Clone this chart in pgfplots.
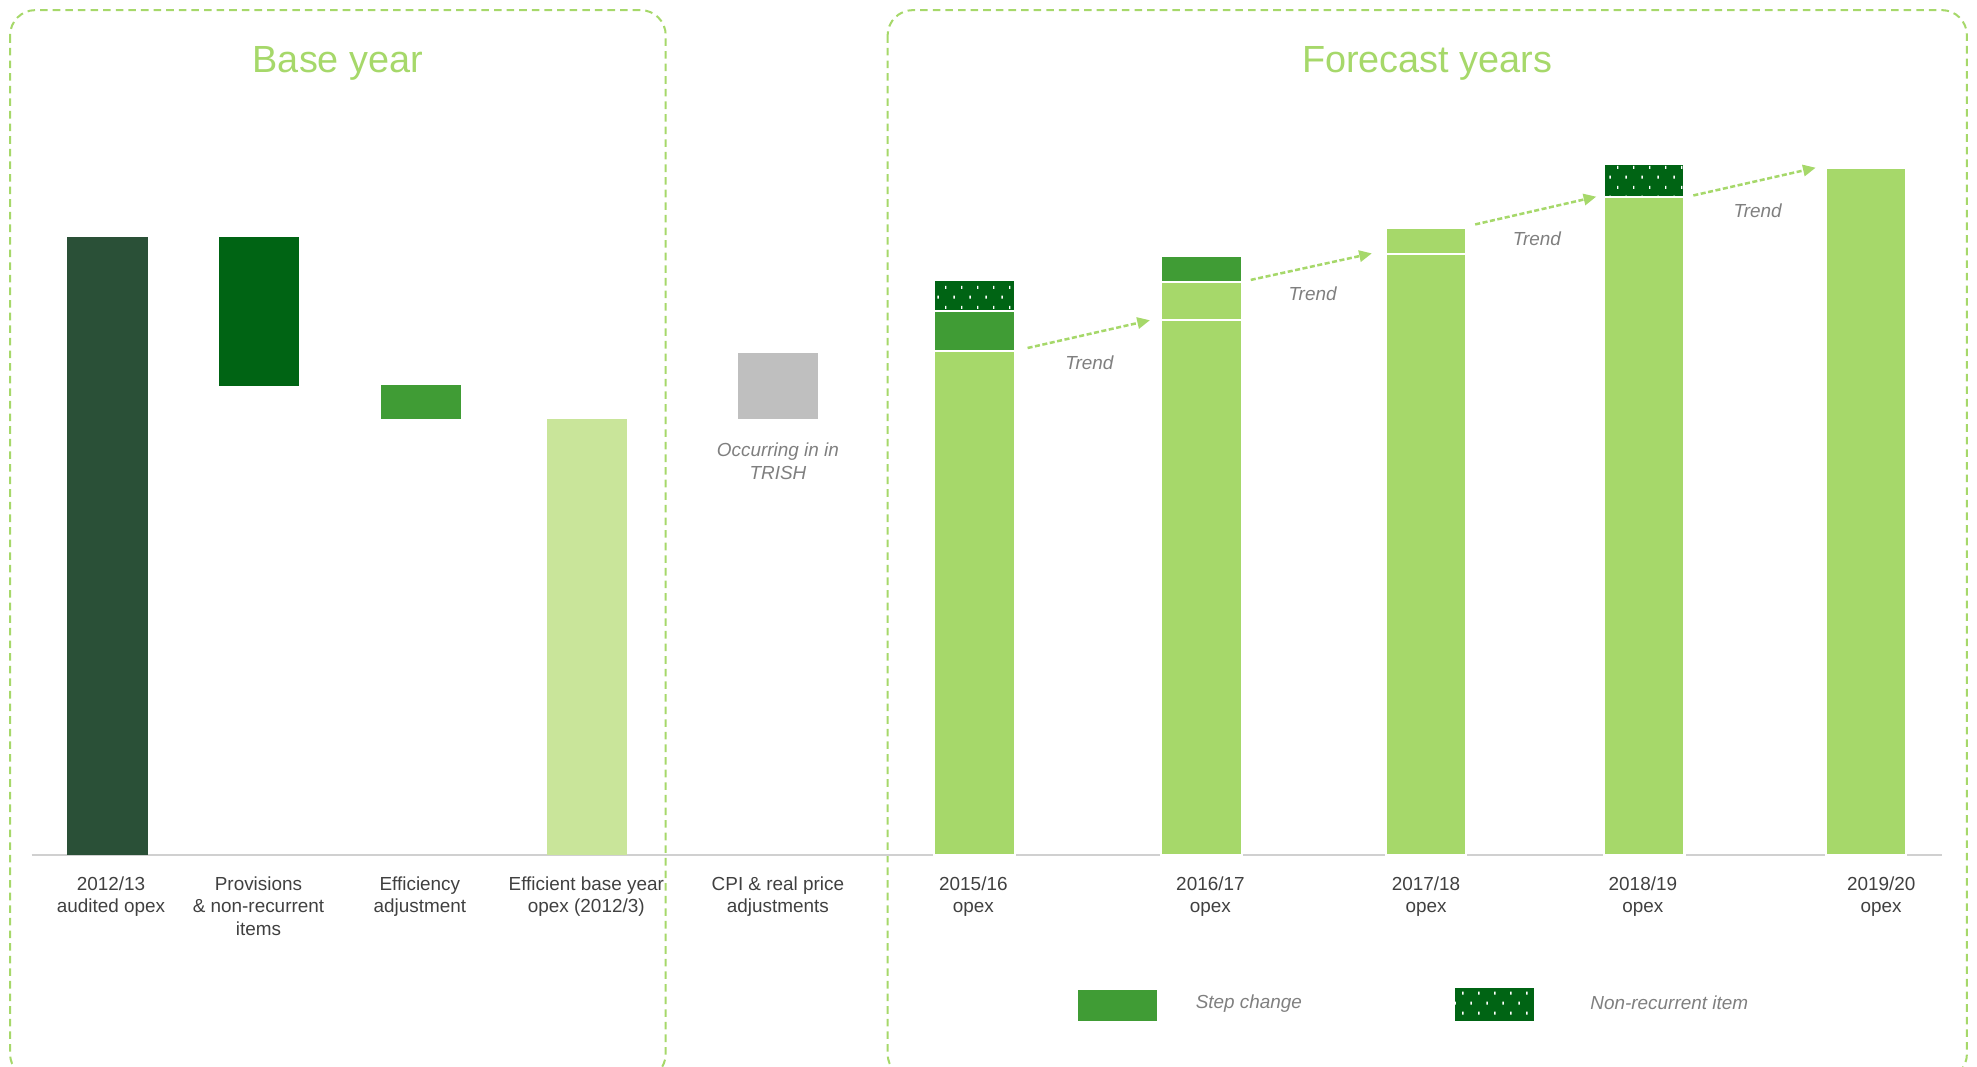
\documentclass[border=0pt]{standalone}
\usepackage{pgfplots}
\pgfplotsset{compat=1.18}
\usepackage{fontspec}
\setmainfont{Liberation Sans}
\usetikzlibrary{arrows.meta,patterns.meta}
\definecolor{lg}{HTML}{A6D86A}
\definecolor{dk}{HTML}{2A5037}
\definecolor{nr}{HTML}{006414}
\definecolor{st}{HTML}{409C35}
\definecolor{eb}{HTML}{C9E59A}
\definecolor{cg}{HTML}{BFBFBF}
\definecolor{tx}{HTML}{404040}
\definecolor{tg}{HTML}{7F7F7F}
\definecolor{bl}{HTML}{D0D0D0}

\tikzdeclarepattern{
  name=nrdots,
  type=uncolored,
  bounding box={(0pt,0pt) and (6.4pt,8pt)},
  tile size={(6.4pt,8pt)},
  code={
    \fill (1pt,1pt) rectangle (1.6pt,2.2pt);
    \fill (4.2pt,5pt) rectangle (4.8pt,6.2pt);
  }
}

\begin{document}
\begin{tikzpicture}
\begin{axis}[
  scale only axis, width=784pt, height=339pt,
  xmin=0, xmax=1568, ymin=0, ymax=138.367,
  clip=false,
  axis line style={draw=none},
  major tick length=0pt,
  ytick=\empty,
  xtick={88,205,333,465,617,772,960,1131,1303,1492},
  xticklabels={{2012/13\\audited opex},{Provisions\\\& non-recurrent\\items},{Efficiency\\adjustment},{Efficient base year\\opex (2012/3)},{CPI \& real price\\adjustments},{2015/16\\opex},{2016/17\\opex},{2017/18\\opex},{2018/19\\opex},{2019/20\\opex}},
  xticklabel style={align=center, font=\fontsize{7.5}{9}\selectfont, text=tx, yshift=-5pt},
  ybar stacked, bar width=64,
]
% invisible offsets for floating bars
\addplot[draw=none, fill=none] coordinates {(85,0) (205.5,75.9) (334,70.6) (465.5,0) (617,70.6) (773,0) (953,0) (1131,0) (1304,0) (1480,0)};
% 2012/13 audited opex
\addplot[draw=none, fill=dk] coordinates {(85,100) (205.5,0) (334,0) (465.5,0) (617,0) (773,0) (953,0) (1131,0) (1304,0) (1480,0)};
% provisions & non-recurrent items
\addplot[draw=none, fill=nr] coordinates {(85,0) (205.5,24.1) (334,0) (465.5,0) (617,0) (773,0) (953,0) (1131,0) (1304,0) (1480,0)};
% efficiency adjustment
\addplot[draw=none, fill=st] coordinates {(85,0) (205.5,0) (334,5.5) (465.5,0) (617,0) (773,0) (953,0) (1131,0) (1304,0) (1480,0)};
% efficient base year opex
\addplot[draw=none, fill=eb] coordinates {(85,0) (205.5,0) (334,0) (465.5,70.6) (617,0) (773,0) (953,0) (1131,0) (1304,0) (1480,0)};
% CPI & real price adjustments
\addplot[draw=none, fill=cg] coordinates {(85,0) (205.5,0) (334,0) (465.5,0) (617,10.6) (773,0) (953,0) (1131,0) (1304,0) (1480,0)};
% forecast opex (trended)
\addplot[draw=white, line width=0.8pt, fill=lg] coordinates {(85,0) (205.5,0) (334,0) (465.5,0) (617,0) (773,81.6) (953,86.5) (1131,97.3) (1304,106.5) (1480,111.2)};
% forecast opex, carried step change
\addplot[draw=white, line width=0.8pt, fill=lg] coordinates {(85,0) (205.5,0) (334,0) (465.5,0) (617,0) (773,0) (953,6.3) (1131,4.1) (1304,0) (1480,0)};
% step change
\addplot[draw=white, line width=0.8pt, fill=st] coordinates {(85,0) (205.5,0) (334,0) (465.5,0) (617,0) (773,6.4) (953,4.2) (1131,0) (1304,0) (1480,0)};
% non-recurrent item
\addplot[draw=white, line width=0.8pt, fill=nr, postaction={pattern=nrdots, pattern color=white}] coordinates {(85,0) (205.5,0) (334,0) (465.5,0) (617,0) (773,5.0) (953,0) (1131,0) (1304,5.3) (1480,0)};

% baseline
\draw[bl, line width=1pt] (axis cs:25,0) -- (axis cs:1540,0);

% boxes
\draw[lg, line width=0.8pt, dash pattern=on 3pt off 2pt, rounded corners=10pt] (axis cs:8,136.73) rectangle (axis cs:528,-36.3);
\draw[lg, line width=0.8pt, dash pattern=on 3pt off 2pt, rounded corners=10pt] (axis cs:704,136.73) rectangle (axis cs:1560,-36.3);

% titles
\node[font=\fontsize{15}{18}\selectfont, text=lg] at (axis cs:268,128.17) {Base year};
\node[font=\fontsize{15}{18}\selectfont, text=lg] at (axis cs:1132,128.17) {Forecast years};

% trend arrows
\draw[lg, line width=1pt, dash pattern=on 2pt off 1pt, -{Triangle[length=5pt,width=4.5pt]}] (axis cs:815,82.04) -- (axis cs:912,86.53);
\draw[lg, line width=1pt, dash pattern=on 2pt off 1pt, -{Triangle[length=5pt,width=4.5pt]}] (axis cs:992,93.06) -- (axis cs:1088,97.35);
\draw[lg, line width=1pt, dash pattern=on 2pt off 1pt, -{Triangle[length=5pt,width=4.5pt]}] (axis cs:1170,102.04) -- (axis cs:1266,106.53);
\draw[lg, line width=1pt, dash pattern=on 2pt off 1pt, -{Triangle[length=5pt,width=4.5pt]}] (axis cs:1343,106.73) -- (axis cs:1440,111.22);

\node[font=\itshape\fontsize{7.5}{9}\selectfont, text=tg] at (axis cs:864,79.59) {Trend};
\node[font=\itshape\fontsize{7.5}{9}\selectfont, text=tg] at (axis cs:1041,90.82) {Trend};
\node[font=\itshape\fontsize{7.5}{9}\selectfont, text=tg] at (axis cs:1219,99.8) {Trend};
\node[font=\itshape\fontsize{7.5}{9}\selectfont, text=tg] at (axis cs:1394,104.29) {Trend};

\node[font=\itshape\fontsize{7.5}{9}\selectfont, text=tg, align=center] at (axis cs:617,63.67) {Occurring in in\\TRISH};

% legend
\path[fill=st] (axis cs:855,-21.84) rectangle (axis cs:918,-26.94);
\path[fill=nr, postaction={pattern=nrdots, pattern color=white}] (axis cs:1154,-21.63) rectangle (axis cs:1217,-26.94);
\node[anchor=west, inner sep=0pt, font=\itshape\fontsize{7.5}{9}\selectfont, text=tg] at (axis cs:948,-24.0) {Step change};
\node[anchor=west, inner sep=0pt, font=\itshape\fontsize{7.5}{9}\selectfont, text=tg] at (axis cs:1261,-24.0) {Non-recurrent item};

\coordinate (BL) at (axis cs:0,-34.286);
\coordinate (TR) at (axis cs:1568,138.367);
\end{axis}
\pgfresetboundingbox
\path[use as bounding box] (BL) rectangle (TR);
\end{tikzpicture}
\end{document}
